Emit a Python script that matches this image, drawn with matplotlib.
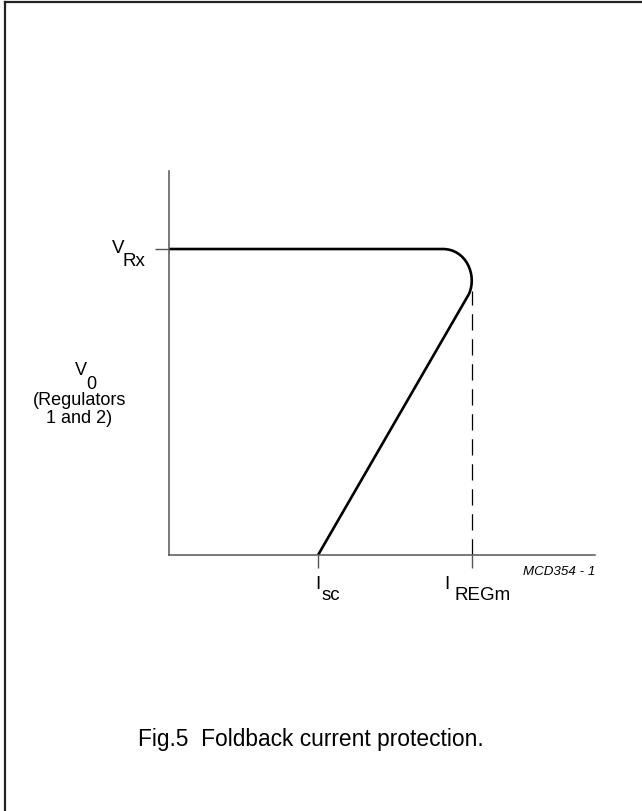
import numpy as np
import matplotlib.pyplot as plt
from matplotlib.path import Path
from matplotlib.patches import PathPatch

plt.rcParams['font.family'] = ['Liberation Sans', 'DejaVu Sans']

# characteristic (normalised units: I_REGm = 1, V_Rx = 1)
v_rx = 1.0
i_sc = 0.492
i_regm = 1.0
knee_x = [0.904, 0.980, 1.018, 0.990]   # bezier: start, ctrl, ctrl, end
knee_y = [1.0, 1.0, 0.915, 0.853]
dash_top = 0.863
x_max = 1.406
y_max = 1.255

W, H = 642, 812
fig = plt.figure(figsize=(W / 100, H / 100), dpi=100)

def px(x, y):
    return x / W, 1 - y / H

# frame (only top and left visible)
fig.add_artist(plt.Line2D([5 / W, 5 / W], [0, 1 - 3 / H], color='#222222', lw=1.6))
fig.add_artist(plt.Line2D([5 / W, 1], [1 - 3 / H, 1 - 3 / H], color='#222222', lw=1.6))

x0, y0 = px(169, 556)
x1, y1 = px(595, 172)
ax = fig.add_axes([x0, y0, x1 - x0, y1 - y0])
ax.set_xlim(0, x_max)
ax.set_ylim(0, y_max)
for s in ['top', 'right']:
    ax.spines[s].set_visible(False)
for s in ['left', 'bottom']:
    ax.spines[s].set_color('#555555')
    ax.spines[s].set_linewidth(1.1)
ax.set_xticks([i_sc, i_regm])
ax.set_yticks([v_rx])
ax.set_xticklabels([])
ax.set_yticklabels([])
ax.tick_params(axis='x', length=9, width=1, color='#555555', direction='out')
ax.tick_params(axis='y', length=10, width=1, color='#555555', direction='out')
ax.patch.set_alpha(0)

# foldback curve
verts = [(0, v_rx), (knee_x[0], knee_y[0]),
         (knee_x[1], knee_y[1]), (knee_x[2], knee_y[2]), (knee_x[3], knee_y[3]),
         (i_sc, 0)]
codes = [Path.MOVETO, Path.LINETO, Path.CURVE4, Path.CURVE4, Path.CURVE4, Path.LINETO]
ax.add_patch(PathPatch(Path(verts, codes), fill=False, lw=1.9, color='black',
                       capstyle='butt', clip_on=False))

# dashed limit line
ax.plot([i_regm, i_regm], [0, dash_top], color='black', lw=0.9,
        dashes=(13, 7))

# labels
fs = 13.5
fig.text(*px(112, 253), 'V', fontsize=fs, ha='left', va='baseline')
fig.text(*px(123, 266), 'Rx', fontsize=fs, ha='left', va='baseline')
fig.text(*px(75, 375), 'V', fontsize=13, ha='left', va='baseline')
fig.text(*px(86, 389), '0', fontsize=13, ha='left', va='baseline')
fig.text(*px(80, 405), '(Regulators', fontsize=13, ha='center', va='baseline')
fig.text(*px(79, 423), '1 and 2)', fontsize=13, ha='center', va='baseline')
fig.text(*px(315, 589), 'I', fontsize=fs, ha='left', va='baseline')
fig.text(*px(322, 600), 'sc', fontsize=fs, ha='left', va='baseline')
fig.text(*px(444, 589), 'I', fontsize=fs, ha='left', va='baseline')
fig.text(*px(454, 600), 'REGm', fontsize=fs, ha='left', va='baseline')
fig.text(*px(595, 575), 'MCD354 - 1', fontsize=9.6, style='italic',
         ha='right', va='baseline')
fig.text(*px(311, 746), 'Fig.5  Foldback current protection.', fontsize=16.4,
         ha='center', va='baseline')

fig.savefig('out.png', dpi=100)
